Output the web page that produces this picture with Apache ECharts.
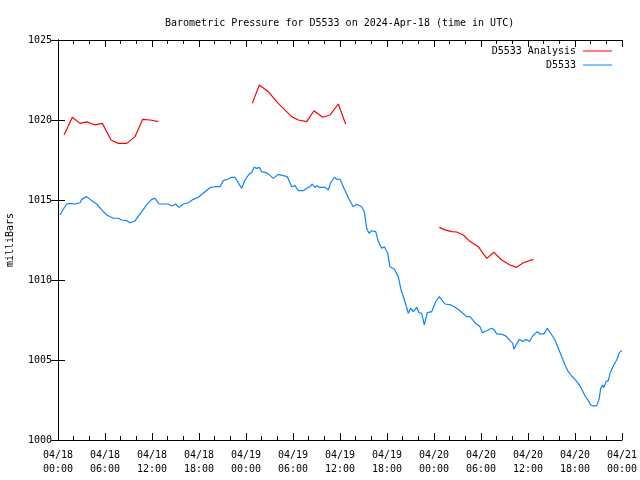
<!DOCTYPE html>
<html>
<head>
<meta charset="utf-8">
<script src="https://cdn.jsdelivr.net/npm/echarts@6/dist/echarts.min.js"></script>
<style>html,body{margin:0;padding:0;background:#fff}#c{width:640px;height:480px}</style>
</head>
<body>
<div id="c"></div>
<script>
// hours since 2024-04-18 00:00 UTC
var tickDates = ["04/18","04/18","04/18","04/18","04/19","04/19","04/19","04/19","04/20","04/20","04/20","04/20","04/21"];
var tickTimes = ["00:00","06:00","12:00","18:00","00:00","06:00","12:00","18:00","00:00","06:00","12:00","18:00","00:00"];
var yTicks = [1000,1005,1010,1015,1020,1025];

var blueHours = [0.26,0.68,1.11,1.53,2.17,2.81,3.03,3.66,4.30,4.94,5.58,6.22,7.06,7.70,8.13,8.77,9.19,9.83,10.05,10.69,11.32,11.96,12.38,12.89,14.08,14.51,15.03,15.45,16.0,16.63,17.27,17.91,18.68,19.40,20.04,20.68,21.10,21.74,22.17,22.60,23.02,23.45,23.87,24.42,24.73,25.02,25.37,25.70,26.00,26.55,26.85,27.06,27.49,28.12,28.76,29.27,29.83,30.26,30.68,31.31,31.75,32.17,32.46,32.81,33.03,33.36,34.09,34.51,34.81,35.27,35.58,36.0,36.51,37.2,37.70,38.13,38.77,39.10,39.41,39.70,40.05,40.56,40.89,41.32,41.66,42.09,42.38,42.93,43.44,43.79,44.30,44.72,45.03,45.36,45.79,46.09,46.43,46.76,47.14,47.71,48.22,48.68,49.40,50.17,50.68,51.32,52.17,52.60,53.23,53.87,54.17,54.73,55.37,55.70,56.0,56.77,57.28,57.70,58.05,58.21,58.47,58.89,59.32,59.74,60.17,60.60,61.19,61.53,62.04,62.46,62.90,63.45,63.87,64.30,64.72,65.15,65.58,66.0,66.42,66.86,67.28,67.70,68.0,68.34,68.77,69.10,69.28,69.54,69.70,69.96,70.25,70.47,70.89,71.32,71.66,72.0];
var blueValues = [1014.06,1014.42,1014.75,1014.79,1014.75,1014.83,1015.04,1015.21,1014.96,1014.75,1014.38,1014.06,1013.86,1013.86,1013.75,1013.71,1013.58,1013.69,1013.64,1014.27,1014.69,1015.04,1015.10,1014.75,1014.75,1014.63,1014.75,1014.54,1014.75,1014.83,1015.04,1015.17,1015.48,1015.77,1015.83,1015.83,1016.21,1016.31,1016.42,1016.42,1016.08,1015.73,1016.25,1016.63,1016.71,1017.04,1016.98,1017.04,1016.77,1016.71,1016.63,1016.71,1016.35,1016.60,1016.52,1016.46,1015.83,1015.90,1015.58,1015.58,1015.73,1015.83,1016.0,1015.77,1015.90,1015.79,1015.79,1015.63,1016.08,1016.42,1016.31,1016.29,1015.73,1015.0,1014.58,1014.73,1014.58,1014.27,1013.23,1012.92,1013.08,1013.02,1012.40,1011.98,1012.08,1011.67,1010.83,1010.69,1010.21,1009.38,1008.64,1007.92,1008.23,1008.02,1008.29,1007.96,1007.92,1007.19,1007.96,1008.02,1008.64,1008.96,1008.5,1008.44,1008.29,1008.08,1007.71,1007.71,1007.33,1007.08,1006.71,1006.83,1006.98,1006.88,1006.63,1006.60,1006.46,1006.21,1006.04,1005.67,1005.94,1006.29,1006.15,1006.29,1006.15,1006.5,1006.77,1006.63,1006.63,1006.98,1006.67,1006.25,1005.73,1005.21,1004.69,1004.27,1004.0,1003.79,1003.54,1003.19,1002.75,1002.46,1002.19,1002.13,1002.13,1002.60,1003.23,1003.44,1003.29,1003.65,1003.71,1004.17,1004.63,1005.0,1005.46,1005.6];

var red1Hours = [0.77,1.83,2.81,3.66,4.72,5.66,6.77,7.70,8.77,9.83,10.81,11.74,12.81];
var red1Values = [1019.06,1020.17,1019.79,1019.88,1019.69,1019.79,1018.75,1018.54,1018.54,1018.96,1020.04,1020.0,1019.9];
var red2Hours = [24.8,25.7,26.85,27.9,28.76,29.83,30.68,31.75,32.68,33.8,34.72,35.78,36.72];
var red2Values = [1021.04,1022.19,1021.77,1021.15,1020.73,1020.21,1020.0,1019.9,1020.58,1020.17,1020.31,1021.0,1019.75];
var red3Hours = [48.68,49.40,50.26,50.89,51.74,52.6,53.66,54.73,55.66,56.64,57.70,58.55,59.40,60.68];
var red3Values = [1013.29,1013.13,1013.02,1013.0,1012.81,1012.4,1012.08,1011.35,1011.73,1011.25,1010.94,1010.79,1011.08,1011.29];

function pairs(xs, ys){ return xs.map(function(x,i){ return [x, ys[i]]; }); }

var FONT = 'DejaVu Sans Mono';
var RED = '#ff0000', BLUE = '#0a84ff';
var chart = echarts.init(document.getElementById('c'), null, {renderer:'canvas'});
var axisLine = {show:true, lineStyle:{color:'#000', width:1}};
function redSeries(data){
  return {name:'D5533 Analysis', type:'line', data:data, symbol:'none', showSymbol:false,
    lineStyle:{color:RED, width:1.2}, itemStyle:{color:RED}, animation:false, z:3};
}
chart.setOption({
  animation:false,
  backgroundColor:'#fff',
  title:{text:'Barometric Pressure for D5533 on 2024-Apr-18 (time in UTC)', left:160, top:13,
    textStyle:{fontFamily:FONT, fontSize:10, fontWeight:'normal', color:'#000'}},
  legend:{data:['D5533 Analysis','D5533'], orient:'vertical', right:23, top:41, align:'right',
    itemWidth:29, itemHeight:1, itemGap:4, icon:'rect',
    textStyle:{fontFamily:FONT, fontSize:10, color:'#000', padding:[0,2,0,0]}},
  grid:{left:58, right:18, top:40, bottom:40, containLabel:false, outerBoundsMode:'none'},
  xAxis:[{
    type:'value', min:0, max:72, interval:6, position:'bottom',
    axisLine:axisLine,
    axisTick:{show:true, inside:true, length:7, lineStyle:{color:'#000'}},
    minorTick:{show:true, splitNumber:3, length:4, lineStyle:{color:'#000'}},
    splitLine:{show:false},
    axisLabel:{margin:8, fontFamily:FONT, fontSize:10, color:'#000', lineHeight:14,
      formatter:function(v){ var i=Math.round(v/6); return tickDates[i]+'\n'+tickTimes[i]; }}
  },{
    type:'value', min:0, max:72, interval:6, position:'top',
    axisLine:axisLine,
    axisTick:{show:true, inside:true, length:7, lineStyle:{color:'#000'}},
    minorTick:{show:true, splitNumber:3, length:4, lineStyle:{color:'#000'}},
    splitLine:{show:false}, axisLabel:{show:false}
  }],
  yAxis:[{
    type:'value', min:yTicks[0], max:yTicks[yTicks.length-1], interval:5, position:'left',
    name:'milliBars', nameLocation:'middle', nameRotate:90, nameGap:43,
    nameTextStyle:{fontFamily:FONT, fontSize:10, color:'#000'},
    axisLine:axisLine,
    axisTick:{show:true, inside:true, length:7, lineStyle:{color:'#000'}},
    splitLine:{show:false},
    axisLabel:{margin:6, fontFamily:FONT, fontSize:10, color:'#000',
      formatter:function(v){ return String(v); }}
  },{
    type:'value', min:yTicks[0], max:yTicks[yTicks.length-1], interval:5, position:'right',
    axisLine:axisLine,
    axisTick:{show:true, inside:true, length:7, lineStyle:{color:'#000'}},
    splitLine:{show:false}, axisLabel:{show:false}
  }],
  series:[
    redSeries(pairs(red1Hours, red1Values)),
    redSeries(pairs(red2Hours, red2Values)),
    redSeries(pairs(red3Hours, red3Values)),
    {name:'D5533', type:'line', data:pairs(blueHours, blueValues), symbol:'none', showSymbol:false,
      lineStyle:{color:BLUE, width:1.2}, itemStyle:{color:BLUE}, animation:false, z:2}
  ]
});
</script>
</body>
</html>
